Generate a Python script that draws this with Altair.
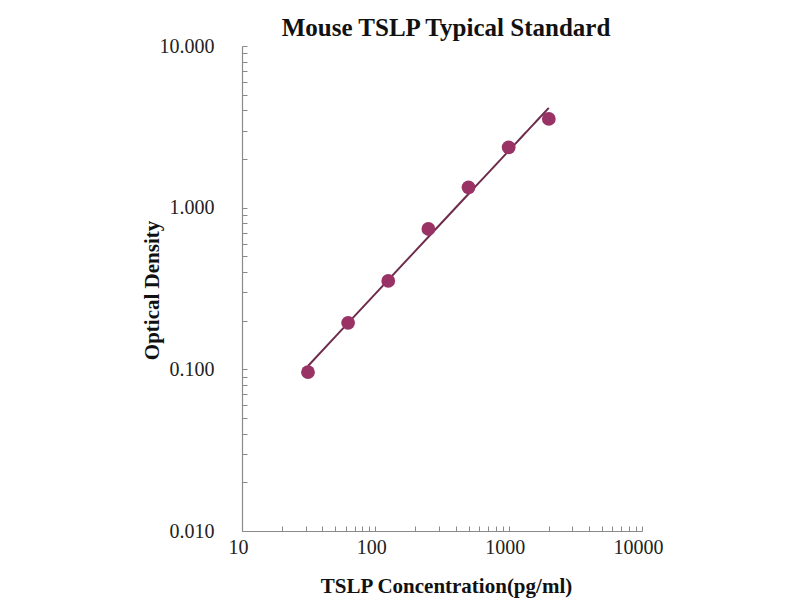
import altair as alt
import pandas as pd

# Standard curve data
conc = [31.25, 62.5, 125, 250, 500, 1000, 2000]
od = [0.096, 0.194, 0.352, 0.738, 1.337, 2.36, 3.54]

# Axis label positions
x_label_values = [10, 100, 1000, 10000]
y_label_values = [0.01, 0.1, 1, 10]

# Minor/major tick positions
x_tick_values = [10, 20, 30, 40, 50, 60, 70, 80, 90,
                 100, 200, 300, 400, 500, 600, 700, 800, 900,
                 1000, 2000, 3000, 4000, 5000, 6000, 7000, 8000, 9000, 10000]
y_tick_values = [0.01, 0.02, 0.03, 0.04, 0.05, 0.06, 0.07, 0.08, 0.09,
                 0.1, 0.2, 0.3, 0.4, 0.5, 0.6, 0.7, 0.8, 0.9,
                 1, 2, 3, 4, 5, 6, 7, 8, 9, 10]

df = pd.DataFrame({"conc": conc, "od": od})

FONT = "Liberation Serif"
AXIS_COLOR = "#8a8a8a"

xscale = alt.Scale(type="log", domain=[10, 10000])
yscale = alt.Scale(type="log", domain=[0.01, 10])

label_x_axis = alt.Axis(
    orient="bottom", values=x_label_values, format="d", ticks=False, grid=False,
    domainColor=AXIS_COLOR, domainWidth=1.2,
    labelFont=FONT, labelFontSize=20, labelColor="#222222", labelPadding=6, labelOffset=-4,
    labelFlush=False, labelOverlap=False,
    title="TSLP Concentration(pg/ml)", titleFont=FONT, titleFontSize=21,
    titleFontWeight="bold", titleColor="#111111", titleX=204, titleY=61,
    titleBaseline="alphabetic", titleAlign="center",
)
label_y_axis = alt.Axis(
    orient="left", values=y_label_values, format=".3f", ticks=False, grid=False,
    domainColor=AXIS_COLOR, domainWidth=1.2,
    labelFont=FONT, labelFontSize=20, labelColor="#222222", labelPadding=28,
    labelFlush=False, labelOverlap=False,
    title="Optical Density", titleFont=FONT, titleFontSize=21,
    titleFontWeight="bold", titleColor="#111111", titleX=-90, titleY=244,
    titleBaseline="middle", titleAlign="center", titleAngle=270,
)
tick_x_axis = alt.Axis(
    orient="bottom", values=x_tick_values, labels=False, domain=False, grid=False,
    tickSize=5, tickColor=AXIS_COLOR, tickWidth=1, offset=-5, title=None,
)
tick_y_axis = alt.Axis(
    orient="left", values=y_tick_values, labels=False, domain=False, grid=False,
    tickSize=5, tickColor=AXIS_COLOR, tickWidth=1, offset=-5, title=None,
)

base = alt.Chart(df)

line = base.transform_regression("conc", "od", method="pow").mark_line(
    color="#6e2b4c", strokeWidth=2
).encode(
    x=alt.X("conc:Q", scale=xscale, axis=tick_x_axis),
    y=alt.Y("od:Q", scale=yscale, axis=tick_y_axis),
)

points = base.mark_circle(size=190, color="#993366", opacity=1).encode(
    x=alt.X("conc:Q", scale=xscale, axis=label_x_axis),
    y=alt.Y("od:Q", scale=yscale, axis=label_y_axis),
)

chart = alt.layer(line, points).resolve_axis(
    x="independent", y="independent"
).properties(
    width=400,
    height=485,
    padding={"left": 234, "top": 38, "right": 140, "bottom": 68},
    autosize=alt.AutoSizeParams(type="none"),
    title=alt.TitleParams(
        "Mouse TSLP Typical Standard", font=FONT, fontSize=25, fontWeight="bold",
        color="#111111", anchor="middle", frame="group", offset=-5, dx=4,
    ),
).configure_view(stroke=None)

chart.save("out.html", embed_options={"renderer": "svg", "actions": False})
